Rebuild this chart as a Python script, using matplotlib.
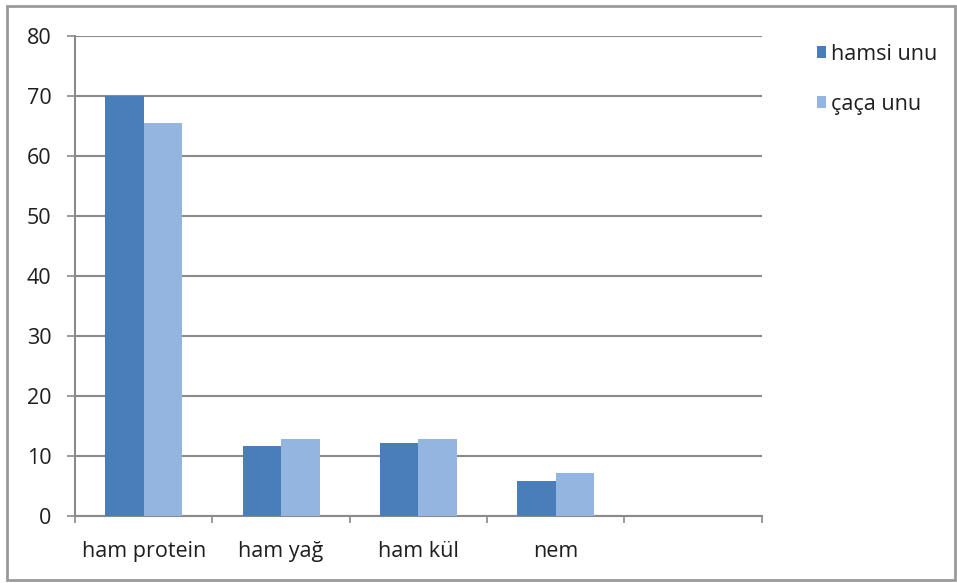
#!/usr/bin/env python3
"""Ham protein / yağ / kül / nem: hamsi unu vs çaça unu."""
import matplotlib

matplotlib.use("Agg")
import matplotlib.pyplot as plt
import numpy as np
from matplotlib.patches import Rectangle

CATEGORIES = ["ham protein", "ham yağ", "ham kül", "nem"]
N_SLOTS = 5  # Excel left an empty fifth slot
HAMSI = [70.0, 11.6, 12.1, 5.8]
CACA = [65.5, 12.9, 12.9, 7.1]
SERIES = ["hamsi unu", "çaça unu"]
COLORS = ["#4A7EBB", "#93B5DF"]
Y_TICKS = list(range(0, 81, 10))

plt.rcParams["font.family"] = ["Open Sans", "DejaVu Sans"]
TXT = "#1e1e1e"
FS = 15.5

fig = plt.figure(figsize=(9.57, 5.83), dpi=100)
ax = fig.add_axes([0.0784, 0.1149, 0.7176, 0.8234])

x = np.arange(len(CATEGORIES))
w = 0.28
ax.bar(x - w / 2, HAMSI, w, color=COLORS[0], label=SERIES[0], zorder=3)
ax.bar(x + w / 2, CACA, w, color=COLORS[1], label=SERIES[1], zorder=3)

ax.set_xlim(-0.5, N_SLOTS - 0.5)
ax.set_ylim(0, 80)
ax.set_yticks(Y_TICKS)
ax.yaxis.grid(True, color="#8a8a8a", lw=1.5, zorder=0)
ax.set_axisbelow(True)

ax.set_xticks(x)
ax.set_xticklabels(CATEGORIES)
ax.set_xticks(np.arange(N_SLOTS + 1) - 0.5, minor=True)
ax.tick_params(axis="x", which="major", length=0, pad=18, labelsize=FS, colors=TXT)
ax.tick_params(axis="x", which="minor", length=5, width=1.2, color="#8a8a8a", direction="out")
ax.tick_params(axis="y", length=6, width=1.2, color="#8a8a8a", pad=11, labelsize=FS, labelcolor=TXT)

for s in ["top", "right"]:
    ax.spines[s].set_visible(False)
for s in ["left", "bottom"]:
    ax.spines[s].set_color("#8a8a8a")
    ax.spines[s].set_linewidth(1.5)

leg = fig.legend(
    loc="upper left",
    bbox_to_anchor=(0.833, 0.958),
    frameon=False,
    fontsize=FS,
    handlelength=0.45,
    handleheight=0.45,
    handletextpad=0.2,
    labelspacing=1.35,
)
for t in leg.get_texts():
    t.set_color(TXT)

fig.patches.append(
    Rectangle((0.007, 0.005), 0.991, 0.984, transform=fig.transFigure,
              fill=False, edgecolor="#9a9a9a", lw=2)
)

fig.savefig("out.png", dpi=100)
